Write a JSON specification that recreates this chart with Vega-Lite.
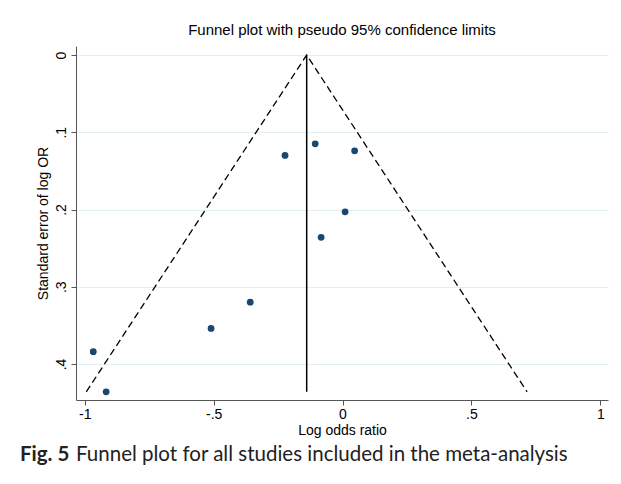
{
  "$schema": "https://vega.github.io/schema/vega-lite/v6.json",
  "background": "white",
  "padding": {"left": 20, "top": 23, "right": 5, "bottom": 5},
  "spacing": 8,
  "config": {"view": {"stroke": null}, "font": "Liberation Sans"},
  "datasets": {
    "studies": [
      {"lor": -0.967, "se": 0.384},
      {"lor": -0.917, "se": 0.436},
      {"lor": -0.510, "se": 0.354},
      {"lor": -0.358, "se": 0.320},
      {"lor": -0.223, "se": 0.130},
      {"lor": -0.106, "se": 0.115},
      {"lor": 0.047, "se": 0.124},
      {"lor": 0.010, "se": 0.203},
      {"lor": -0.083, "se": 0.236}
    ],
    "funnel": [
      {"lor": -0.994, "se": 0.436, "o": 1},
      {"lor": -0.139, "se": 0.0, "o": 2},
      {"lor": 0.716, "se": 0.436, "o": 3}
    ],
    "pooled": [
      {"lor": -0.139, "se": 0.0, "se2": 0.436}
    ]
  },
  "vconcat": [
    {
      "width": 532,
      "height": 354,
      "title": {"text": "Funnel plot with pseudo 95% confidence limits", "fontSize": 15, "fontWeight": "normal", "font": "Liberation Sans", "color": "#000", "offset": 8, "anchor": "middle"},
      "encoding": {
        "x": {
          "field": "lor", "type": "quantitative",
          "scale": {"domain": [-1.034, 1.03], "nice": false, "zero": false},
          "axis": {
            "title": "Log odds ratio",
            "values": [-1, -0.5, 0, 0.5, 1],
            "labelExpr": "datum.value == -1 ? '-1' : datum.value == -0.5 ? '-.5' : datum.value == 0 ? '0' : datum.value == 0.5 ? '.5' : '1'",
            "grid": false,
            "tickSize": 5, "tickColor": "#555", "domainColor": "#555",
            "labelFontSize": 14, "labelColor": "#000", "labelPadding": 2, "labelFont": "Liberation Sans",
            "titleFontSize": 14, "titleFontWeight": "normal", "titleColor": "#000", "titlePadding": 2, "titleFont": "Liberation Sans"
          }
        },
        "y": {
          "field": "se", "type": "quantitative",
          "scale": {"domain": [-0.0117, 0.4466], "reverse": true, "nice": false, "zero": false},
          "axis": {
            "title": "Standard error of log OR",
            "values": [0, 0.1, 0.2, 0.3, 0.4],
            "labelExpr": "datum.value == 0 ? '0' : '.' + round(datum.value * 10)",
            "labelAngle": -90,
            "grid": true, "gridColor": "#e2eef1", "gridWidth": 1.2,
            "tickSize": 5, "tickColor": "#555", "domainColor": "#555",
            "labelFontSize": 14, "labelColor": "#000", "labelPadding": 3, "labelFont": "Liberation Sans",
            "titleFontSize": 14, "titleFontWeight": "normal", "titleColor": "#000", "titlePadding": 4, "titleFont": "Liberation Sans"
          }
        }
      },
      "layer": [
        {
          "data": {"name": "funnel"},
          "mark": {"type": "line", "color": "#000", "strokeWidth": 1.3, "strokeDash": [7, 4]},
          "encoding": {"order": {"field": "o", "type": "quantitative"}}
        },
        {
          "data": {"name": "pooled"},
          "mark": {"type": "rule", "color": "#000", "strokeWidth": 1.5},
          "encoding": {"y2": {"field": "se2"}}
        },
        {
          "data": {"name": "studies"},
          "mark": {"type": "circle", "size": 46, "color": "#1a476f", "opacity": 1},
          "encoding": {}
        }
      ]
    },
    {
      "spacing": -1,
      "hconcat": [
        {
          "width": 1, "height": 1,
          "title": {"text": "Fig. 5", "fontSize": 20.5, "fontWeight": "bold", "font": "Lato", "color": "#222", "anchor": "start", "offset": 0, "dx": -56, "dy": 2},
          "data": {"values": [{}]},
          "mark": {"type": "text"},
          "encoding": {}
        },
        {
          "width": 1, "height": 1,
          "title": {"text": "Funnel plot for all studies included in the meta-analysis", "fontSize": 20.5, "fontWeight": "normal", "font": "Lato", "color": "#222", "anchor": "start", "offset": 0, "dx": -56, "dy": 2},
          "data": {"values": [{}]},
          "mark": {"type": "text"},
          "encoding": {}
        }
      ]
    }
  ]
}
